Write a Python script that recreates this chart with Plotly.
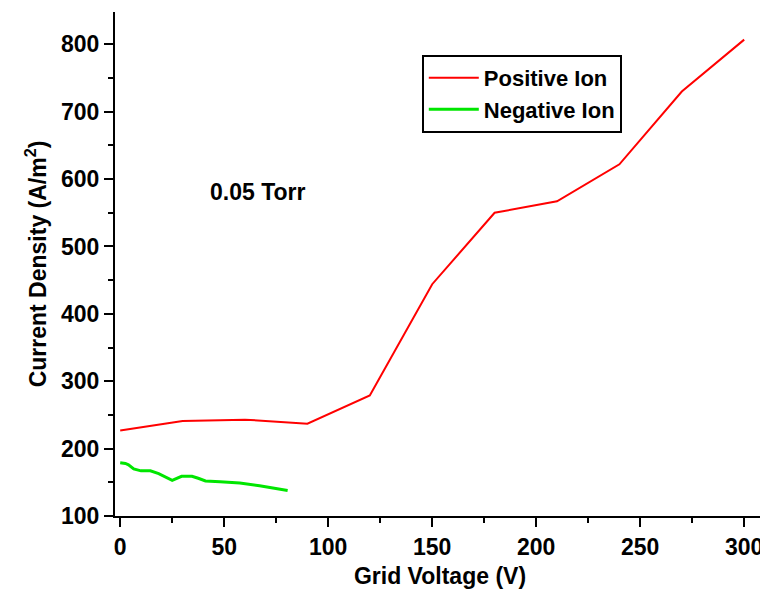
import plotly.graph_objects as go

pos_x = [0, 30, 60, 90, 120, 150, 180, 210, 240, 270, 300]
pos_y = [227, 241, 243, 237, 279, 444, 550, 567, 622, 730, 807]

neg_x = [0, 2.5, 4, 6.5, 10, 14.5, 18.5, 21.5, 25, 29.5, 34.5, 37.5, 41, 48, 57.5, 67, 75, 80.5]
neg_y = [179, 178, 176, 170, 167, 167, 163, 158, 153, 159, 159, 156, 152, 151, 149, 145, 141, 138]

FONT = "Liberation Sans, Arial, sans-serif"
FS = 23

fig = go.Figure()
fig.add_trace(go.Scatter(x=pos_x, y=pos_y, mode="lines", name="Positive Ion",
                         line=dict(color="#ff0000", width=2)))
fig.add_trace(go.Scatter(x=neg_x, y=neg_y, mode="lines", name="Negative Ion",
                         line=dict(color="#00e600", width=3)))

fig.add_annotation(x=66, y=581, text="0.05 Torr", showarrow=False,
                   font=dict(family=FONT, size=FS, color="black", weight="bold"))

axis_common = dict(showline=True, linecolor="black", linewidth=2, ticks="outside",
                   tickwidth=2, ticklen=9, tickcolor="black", showgrid=False, zeroline=False,
                   tickfont=dict(family=FONT, size=FS, color="black", weight="bold"),
                   mirror=False, automargin=False)

fig.update_layout(
    width=768, height=592,
    paper_bgcolor="white", plot_bgcolor="white",
    margin=dict(l=107, r=11, t=4, b=84),
    showlegend=True,
    legend=dict(x=0.472, y=0.915, xanchor="left", yanchor="top",
                bordercolor="black", borderwidth=2, bgcolor="white",
                font=dict(family=FONT, size=22, color="black", weight="bold"),
                tracegroupgap=0, itemwidth=50),
    xaxis=dict(range=[-2.5, 310], tickvals=[0, 50, 100, 150, 200, 250, 300],
               minor=dict(ticks="outside", ticklen=5, tickwidth=2, tickcolor="black", dtick=25, tick0=0),
               title=dict(text="Grid Voltage (V)", standoff=9,
                          font=dict(family=FONT, size=FS, color="black", weight="bold")),
               **axis_common),
    yaxis=dict(range=[100, 848], tickvals=[100, 200, 300, 400, 500, 600, 700, 800],
               minor=dict(ticks="outside", ticklen=5, tickwidth=2, tickcolor="black", dtick=50, tick0=0),
               title=dict(text="Current Density (A/m<sup>2</sup>)", standoff=8,
                          font=dict(family=FONT, size=FS, color="black", weight="bold")),
               **axis_common),
)

fig.write_html("out.html")
